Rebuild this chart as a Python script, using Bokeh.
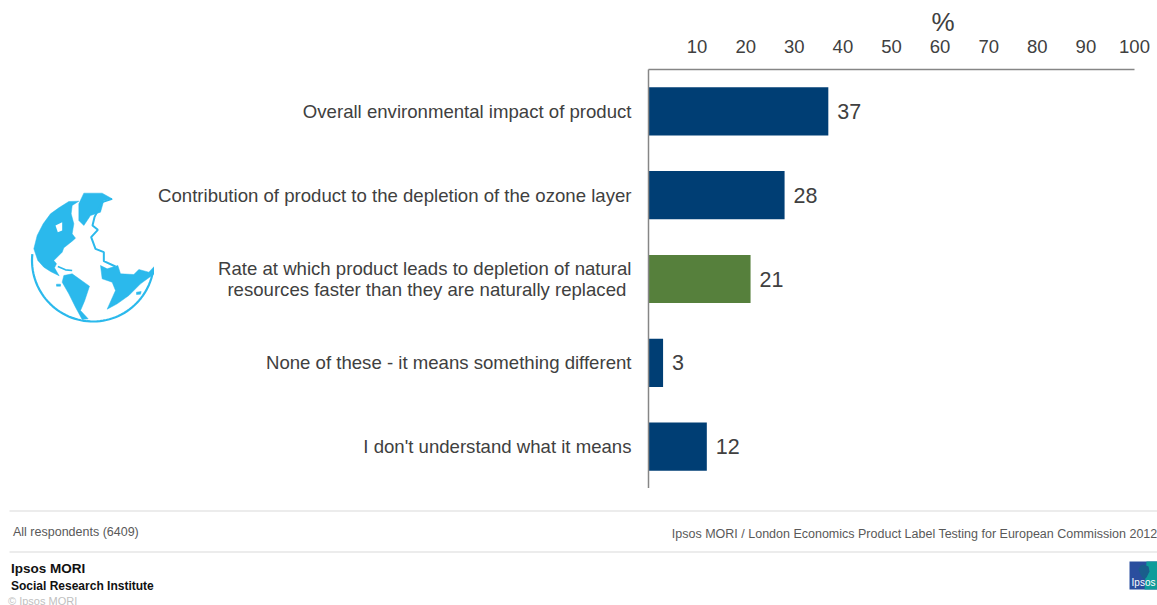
import numpy as np
from bokeh.embed import file_html
from bokeh.layouts import column, row
from bokeh.models import (CategoricalAxis, ColumnDataSource, FactorRange, FixedTicker,
                          LinearAxis, Range1d, Title)
from bokeh.core.properties import value
from bokeh.plotting import figure
from bokeh.resources import INLINE

categories = [
    "Overall environmental impact of product",
    "Contribution of product to the depletion of the ozone layer",
    "Rate at which product leads to depletion of natural\nresources faster than they are naturally replaced ",
    "None of these - it means something different",
    "I don't understand what it means",
]
values = [37, 28, 21, 3, 12]
highlighted = 2
tick_values = [10, 20, 30, 40, 50, 60, 70, 80, 90, 100]

NAVY = "#003E74"
GREEN = "#56803C"
TEXT = "#404040"
AXIS = "#868686"
FONT = "Liberation Sans"
GLOBE = "#2BB9EC"

WIDTH, HEIGHT = 1157, 605
ICON_W = 154           # column holding the globe
FRAME_TOP = 69
FOOT_TOP = 488         # the footer strip starts where the chart frame ends

# Main chart: bars, value labels and both axes
p = figure(width=WIDTH - ICON_W, height=FOOT_TOP, output_backend="svg", toolbar_location=None,
           x_range=Range1d(0, 100), y_range=FactorRange(factors=categories[::-1], range_padding=0),
           x_axis_location=None, y_axis_location=None,
           min_border_left=648 - ICON_W, min_border_right=23, min_border_top=FRAME_TOP, min_border_bottom=0)
p.outline_line_color = None
p.grid.visible = False

colors = [GREEN if i == highlighted else NAVY for i in range(len(values))]
src = ColumnDataSource(dict(cat=categories, val=values, color=colors, label=[str(v) for v in values]))
p.hbar(y="cat", left=0, right="val", height=0.575, fill_color="color", line_color=None, source=src)
p.text(x="val", y="cat", text="label", x_offset=9, text_baseline="middle",
       text_font_size="21.5px", text_color=TEXT, text_font=value(FONT), source=src)

top = LinearAxis(ticker=FixedTicker(ticks=tick_values), axis_line_color=AXIS, axis_line_width=1.5,
                 major_tick_line_color=None, minor_tick_line_color=None,
                 major_label_text_font=FONT, major_label_text_font_size="18.5px",
                 major_label_text_color=TEXT, major_label_standoff=11)
p.add_layout(top, "above")

left = CategoricalAxis(axis_line_color=AXIS, axis_line_width=1.5,
                       major_tick_line_color=None, minor_tick_line_color=None,
                       major_label_text_font=FONT, major_label_text_font_size="18.6px",
                       major_label_text_color=TEXT, major_label_standoff=11,
                       major_label_text_line_height=1.0)
p.add_layout(left, "left")

p.add_layout(Title(text="%", align="left", offset=283, standoff=0, text_font=FONT,
                   text_font_size="26px", text_font_style="normal", text_color=TEXT), "above")


def canvas(w, h, x0, x1, y0, y1, **kw):
    # A bare figure whose data units are the page's own pixels
    f = figure(width=w, height=h, output_backend="svg", toolbar_location=None,
               x_range=Range1d(x0, x1), y_range=Range1d(y1, y0),
               x_axis_location=None, y_axis_location=None, min_border=0, **kw)
    f.outline_line_color = None
    f.grid.visible = False
    return f


# Globe icon, outlines traced at three times their drawn size
g = canvas(ICON_W, FOOT_TOP, 0, ICON_W, FRAME_TOP, FOOT_TOP, min_border_top=FRAME_TOP)


def z(points):
    return [a / 3 for a, _ in points], [170 + b / 3 for _, b in points]


theta = np.radians(np.linspace(8, 186, 60))
g.line(92.5 + 61 * np.cos(theta), 260 + 61 * np.sin(theta), line_color=GLOBE, line_width=2.2)
land = [
    [(235, 92), (205, 93), (175, 112), (150, 130), (128, 160), (110, 195), (100, 235), (112, 270), (130, 290),
     (150, 303), (176, 316), (162, 292), (168, 280), (160, 270), (185, 245), (190, 232), (215, 212), (225, 203),
     (215, 190), (220, 160), (212, 130), (215, 105)],
    [(250, 68), (305, 68), (335, 85), (310, 90), (300, 125), (270, 135), (250, 165), (235, 150), (235, 100)],
    [(190, 315), (215, 310), (267, 347), (252, 392), (240, 420), (263, 445), (245, 447), (225, 410),
     (205, 370), (185, 335)],
    [(300, 285), (320, 295), (352, 285), (360, 310), (400, 312), (415, 297), (445, 305), (461, 288), (461, 310),
     (420, 340), (385, 375), (350, 400), (320, 416), (345, 360), (335, 335), (305, 325)],
    [(168, 341), (180, 341), (180, 347), (168, 347)],
    [(408, 365), (422, 363), (420, 371), (408, 372)],
]
for outline in land:
    g.patch(*z(outline), fill_color=GLOBE, line_color=GLOBE, line_width=0.5)
g.patch(*z([(165, 165), (185, 155), (185, 180), (172, 185)]), fill_color="white", line_color=None)
g.line(*z([(335, 85), (305, 95), (282, 140), (276, 165), (292, 178), (272, 200), (285, 235),
           (310, 245), (310, 272), (345, 288)]), line_color=GLOBE, line_width=2)
g.line(*z([(172, 288), (195, 298), (215, 300)]), line_color=GLOBE, line_width=1.6)

# Footer strip: rules, captions and the Ipsos marks
f = canvas(WIDTH, HEIGHT - FOOT_TOP, 0, WIDTH, FOOT_TOP, HEIGHT)
for ry in (510.5, 551.5):
    f.line([9, WIDTH], [ry, ry], line_color="#D9D9D9", line_width=1)


def caption(x, y, s, size, color="#595959", align="left", style="normal"):
    f.text([x], [y], text=[s], text_font=value(FONT), text_font_size=size, text_color=color,
           text_align=align, text_baseline="middle", text_font_style=style)


caption(12.5, 531, "All respondents (6409)", "12.5px")
caption(1157, 533, "Ipsos MORI / London Economics Product Label Testing for European Commission 2012",
        "12.5px", align="right")
caption(10.5, 568, "Ipsos MORI", "13.5px", "#111111", style="bold")
caption(10.5, 585, "Social Research Institute", "12px", "#111111", style="bold")
caption(7.5, 600, "© Ipsos MORI", "11px", "#BFBFBF")

f.patch([1129, 1157, 1157, 1129], [561, 561, 589, 589], fill_color="#2A4E9E", line_color=None)
f.patch([1146, 1157, 1157, 1144], [561, 561, 589, 589], fill_color="#0E9C9A", line_color=None)
f.patch([1143, 1148, 1149, 1146, 1143, 1140, 1138, 1140], [564, 566, 571, 577, 579, 574, 569, 565],
        fill_color="#1A5E8C", line_color=None)
caption(1143, 582, "Ipsos", "10px", "white", align="center")

page = column(row(g, p, spacing=0), f, spacing=0)
open("out.html", "w").write(file_html(page, INLINE))
